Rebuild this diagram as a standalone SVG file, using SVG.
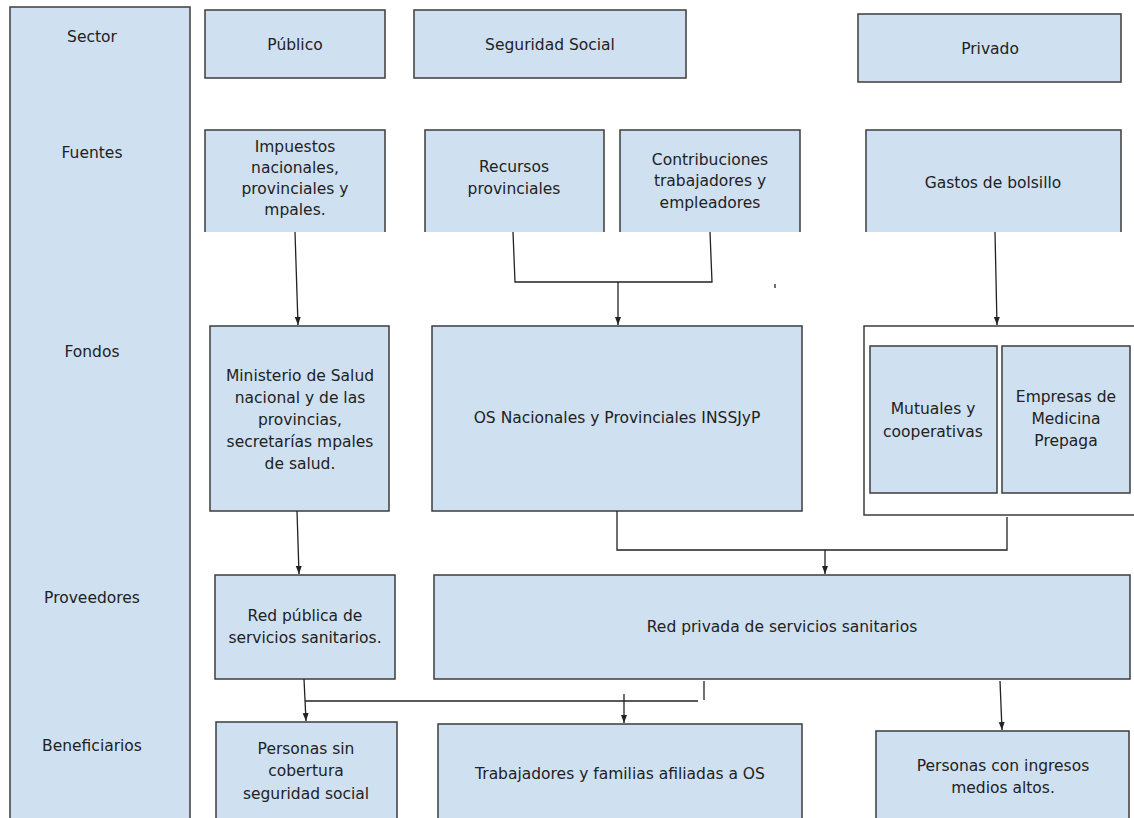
<svg xmlns="http://www.w3.org/2000/svg" width="1134" height="818" viewBox="0 0 1134 818">
<defs>
<style>
.b{fill:#cfe0f1;stroke:#3c3c3c;stroke-width:1.5}
.f{fill:#cfe0f1;stroke:none}
.e{fill:none;stroke:#3c3c3c;stroke-width:1.5}
.t{font-family:"DejaVu Sans",sans-serif;font-size:15.5px;fill:#222;text-anchor:middle}
.c{fill:none;stroke:#222;stroke-width:1.3}
</style>
<marker id="ah" viewBox="0 0 8 8" markerWidth="8" markerHeight="8" refX="8" refY="4" orient="auto" markerUnits="userSpaceOnUse">
<path d="M0,1 L8,4 L0,7 Z" fill="#222"/>
</marker>
</defs>
<rect width="1134" height="818" fill="#fff"/>
<g id="col-labels">
<rect class="b" x="10" y="7" width="180" height="815"/>
<text class="t" x="92" y="42">Sector</text>
<text class="t" x="92" y="158">Fuentes</text>
<text class="t" x="92" y="357">Fondos</text>
<text class="t" x="92" y="603">Proveedores</text>
<text class="t" x="92" y="751">Beneficiarios</text>
</g>
<g id="publico"><rect class="b" x="205" y="10" width="180" height="68"/><text class="t" x="295" y="50">Público</text></g>
<g id="seguridad"><rect class="b" x="414" y="10" width="272" height="68"/><text class="t" x="550" y="50">Seguridad Social</text></g>
<g id="privado"><rect class="b" x="858" y="14" width="263" height="68"/><text class="t" x="990" y="54">Privado</text></g>
<g id="impuestos"><rect class="f" x="205" y="130" width="180" height="102"/><path class="e" d="M205,232 V130 H385 V232"/>
<text class="t" x="295" y="152">Impuestos</text><text class="t" x="295" y="173">nacionales,</text><text class="t" x="295" y="194">provinciales y</text><text class="t" x="295" y="215">mpales.</text></g>
<g id="recursos"><rect class="f" x="425" y="130" width="179" height="102"/><path class="e" d="M425,232 V130 H604 V232"/>
<text class="t" x="514" y="172">Recursos</text><text class="t" x="514" y="194">provinciales</text></g>
<g id="contribuciones"><rect class="f" x="620" y="130" width="180" height="102"/><path class="e" d="M620,232 V130 H800 V232"/>
<text class="t" x="710" y="165">Contribuciones</text><text class="t" x="710" y="186">trabajadores y</text><text class="t" x="710" y="208">empleadores</text></g>
<g id="gastos"><rect class="f" x="866" y="130" width="255" height="102"/><path class="e" d="M866,232 V130 H1121 V232"/>
<text class="t" x="993" y="188">Gastos de bolsillo</text></g>
<g id="ministerio"><rect class="b" x="210" y="326" width="179" height="185"/>
<text class="t" x="300" y="381">Ministerio de Salud</text><text class="t" x="300" y="403">nacional y de las</text><text class="t" x="300" y="425">provincias,</text><text class="t" x="300" y="447">secretarías mpales</text><text class="t" x="300" y="469">de salud.</text></g>
<g id="os"><rect class="b" x="432" y="326" width="370" height="185"/><text class="t" x="617" y="423">OS Nacionales y Provinciales INSSJyP</text></g>
<g id="privado-fondos"><path class="e" d="M1134,326 H864 V515 H1134"/>
<rect class="b" x="870" y="346" width="127" height="147"/><text class="t" x="933" y="414">Mutuales y</text><text class="t" x="933" y="437">cooperativas</text>
<rect class="b" x="1002" y="346" width="128" height="147"/><text class="t" x="1066" y="402">Empresas de</text><text class="t" x="1066" y="424">Medicina</text><text class="t" x="1066" y="446">Prepaga</text></g>
<g id="red-publica"><rect class="b" x="215" y="575" width="180" height="104"/><text class="t" x="305" y="621">Red pública de</text><text class="t" x="305" y="643">servicios sanitarios.</text></g>
<g id="red-privada"><rect class="b" x="434" y="575" width="696" height="104"/><text class="t" x="782" y="632">Red privada de servicios sanitarios</text></g>
<g id="personas-sin"><rect class="b" x="216" y="722" width="181" height="100"/><text class="t" x="306" y="754">Personas sin</text><text class="t" x="306" y="776">cobertura</text><text class="t" x="306" y="799">seguridad social</text></g>
<g id="trabajadores"><rect class="b" x="438" y="724" width="364" height="98"/><text class="t" x="620" y="779">Trabajadores y familias afiliadas a OS</text></g>
<g id="personas-con"><rect class="b" x="876" y="731" width="253" height="91"/><text class="t" x="1003" y="771">Personas con ingresos</text><text class="t" x="1003" y="793">medios altos.</text></g>
<g id="connectors">
<path class="c" d="M295,232 L298,325" marker-end="url(#ah)"/>
<path class="c" d="M513,232 L515,282 H712 L710,232"/>
<path class="c" d="M618,282 V325" marker-end="url(#ah)"/>
<path class="c" d="M775,284 V288"/>
<path class="c" d="M995,232 L997,325" marker-end="url(#ah)"/>
<path class="c" d="M617,511 V550 H1007 V517"/>
<path class="c" d="M825,550 V574" marker-end="url(#ah)"/>
<path class="c" d="M297,511 L299,574" marker-end="url(#ah)"/>
<path class="c" d="M304,679 L306,721" marker-end="url(#ah)"/>
<path class="c" d="M305,701 H698"/>
<path class="c" d="M704,681 V700"/>
<path class="c" d="M624,694 V723" marker-end="url(#ah)"/>
<path class="c" d="M1000,681 L1002,730" marker-end="url(#ah)"/>
</g>
</svg>
